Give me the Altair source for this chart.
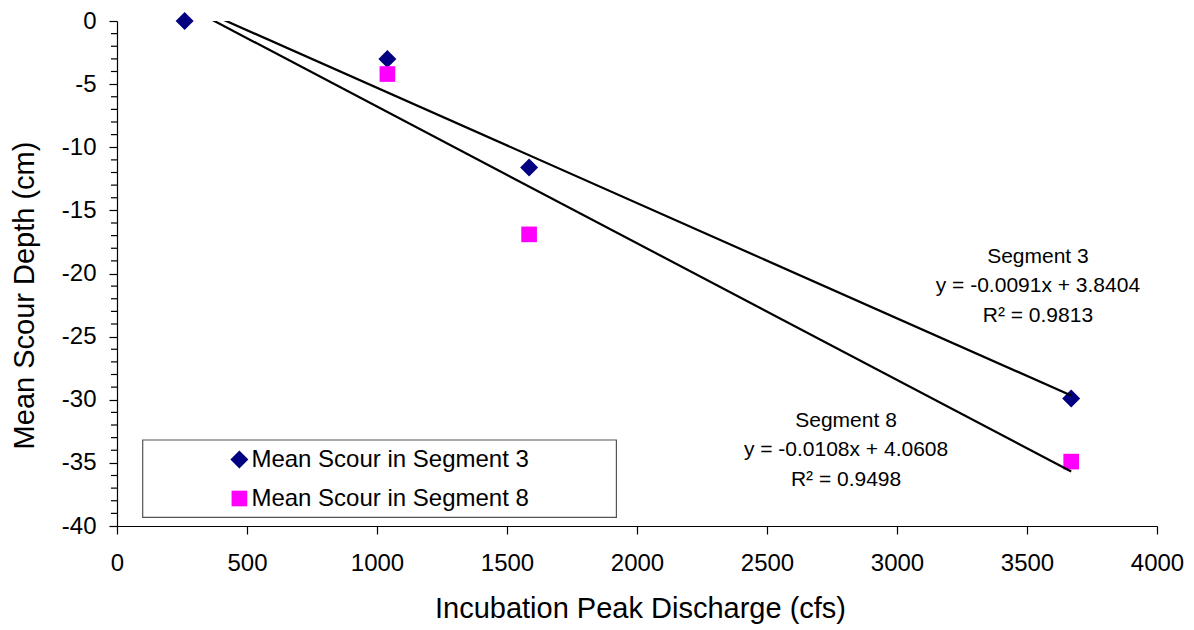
import altair as alt
import pandas as pd

# ---- data ----
series_names = ["Mean Scour in Segment 3", "Mean Scour in Segment 8"]
discharge_seg3 = [260, 1040, 1585, 3670]
scour_seg3 = [0.0, -3.0, -11.6, -29.9]
discharge_seg8 = [1040, 1585, 3670]
scour_seg8 = [-4.2, -16.9, -34.9]

x_ticks = [0, 500, 1000, 1500, 2000, 2500, 3000, 3500, 4000]
y_ticks = [0, -5, -10, -15, -20, -25, -30, -35, -40]
y_minor_ticks = [v for v in range(-40, 1) if v % 5 != 0]

annot_text = [
    "Segment 3\ny = -0.0091x + 3.8404\nR² = 0.9813",
    "Segment 8\ny = -0.0108x + 4.0608\nR² = 0.9498",
]
annot_x = [3542, 2804]
annot_y = [-19.14, -32.13]

FONT = "Liberation Sans"

points = pd.DataFrame({
    "x": discharge_seg3 + discharge_seg8,
    "y": scour_seg3 + scour_seg8,
    "series": [series_names[0]] * len(discharge_seg3) + [series_names[1]] * len(discharge_seg8),
})
annots = pd.DataFrame({"x": annot_x, "y": annot_y, "t": annot_text})
minor = pd.DataFrame({"y": y_minor_ticks})

xscale = alt.Scale(domain=[0, 4000], nice=False, zero=False)
yscale = alt.Scale(domain=[-40, 0], nice=False, zero=False)

xaxis = alt.Axis(
    values=x_ticks, format="d", title="Incubation Peak Discharge (cfs)",
    grid=False, domainColor="black", domainWidth=1.2, tickColor="black", tickWidth=1.2,
    tickSize=8, labelPadding=17, labelFont=FONT, labelFontSize=24, labelColor="black",
    titleFont=FONT, titleFontSize=29, titleFontWeight="normal", titleColor="black",
    titleBaseline="alphabetic", titleX=523, titleY=91, labelFlush=False,
)
yaxis = alt.Axis(
    values=y_ticks, title="Mean Scour Depth (cm)",
    labelExpr="'' + datum.value",
    grid=False, domainColor="black", domainWidth=1.2, tickColor="black", tickWidth=1.2,
    tickSize=8, labelPadding=13, labelFont=FONT, labelFontSize=24, labelColor="black",
    titleFont=FONT, titleFontSize=29, titleFontWeight="normal", titleColor="black",
    titleAngle=-90, titleAlign="center", titleBaseline="alphabetic", titleX=-84, titleY=274,
    labelFlush=False, labelOverlap=False,
)

square_path = "M-0.87,-0.87L0.87,-0.87L0.87,0.87L-0.87,0.87Z"

pts = alt.Chart(points).mark_point(filled=True, size=324, opacity=1, strokeWidth=0).encode(
    x=alt.X("x:Q", scale=xscale, axis=xaxis),
    y=alt.Y("y:Q", scale=yscale, axis=yaxis),
    color=alt.Color("series:N", scale=alt.Scale(domain=series_names, range=["#000080", "#FF00FF"]),
                    legend=alt.Legend(title=None)),
    shape=alt.Shape("series:N", scale=alt.Scale(domain=series_names, range=["diamond", square_path]),
                    legend=alt.Legend(title=None)),
)

trend = alt.Chart(points).transform_regression(
    "x", "y", groupby=["series"], extent=[260, 3670]
).mark_line(color="black", strokeWidth=2.2, clip=True).encode(
    x=alt.X("x:Q", scale=xscale, axis=xaxis),
    y=alt.Y("y:Q", scale=yscale, axis=yaxis),
    detail="series:N",
)

minor_ticks = alt.Chart(minor).mark_rule(color="black", strokeWidth=1.2, clip=False).encode(
    y=alt.Y("y:Q", scale=yscale, axis=yaxis),
    x=alt.value(-6), x2=alt.value(0),
)

text = alt.Chart(annots).mark_text(
    font=FONT, fontSize=21, color="black", align="center", baseline="alphabetic",
    lineBreak="\n", lineHeight=29.5,
).encode(x=alt.X("x:Q", scale=xscale, axis=xaxis), y=alt.Y("y:Q", scale=yscale, axis=yaxis), text="t:N")

frame = alt.Chart(pd.DataFrame({"a": [0]})).mark_rect(
    fill="white", stroke="#555555", strokeWidth=1.2
).encode(x=alt.value(25.7), x2=alt.value(499.4), y=alt.value(419), y2=alt.value(496.3))

chart = alt.layer(frame, pts, trend, minor_ticks, text).properties(
    width=1040, height=505,
    padding={"left": 117, "top": 21, "right": 37, "bottom": 104},
    autosize=alt.AutoSizeParams(type="none"),
    background="white",
).configure_view(stroke=None).configure_legend(
    orient="none", legendX=110.4, legendY=426.5, padding=0,
    labelFont=FONT, labelFontSize=24, labelColor="black", labelOffset=0,
    rowPadding=15, symbolSize=324, symbolStrokeWidth=0, labelLimit=0,
)

chart.save("out.html", embed_options={"renderer": "svg", "actions": False})
